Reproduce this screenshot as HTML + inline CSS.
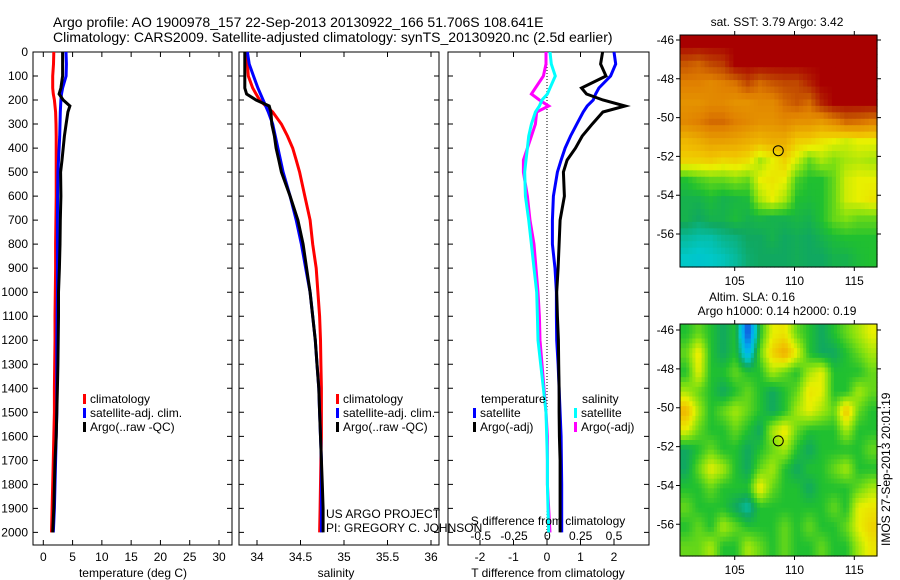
<!DOCTYPE html>
<html><head><meta charset="utf-8"><style>
html,body{margin:0;padding:0;background:#fff;}
svg{display:block;font-family:"Liberation Sans",sans-serif;}
text{font-size:12px;fill:#000;}
</style></head><body>
<svg id="fig" width="900" height="580" viewBox="0 0 900 580" xmlns="http://www.w3.org/2000/svg">
<text x="53" y="27" style="font-size:14px">Argo profile: AO 1900978_157 22-Sep-2013 20130922_166 51.706S 108.641E</text>
<text x="53" y="42" style="font-size:14px">Climatology: CARS2009. Satellite-adjusted climatology: synTS_20130920.nc (2.5d earlier)</text>
<text x="777" y="26" text-anchor="middle">sat. SST: 3.79 Argo: 3.42</text>
<text x="752" y="301" text-anchor="middle">Altim. SLA: 0.16</text>
<text x="777" y="315" text-anchor="middle">Argo h1000: 0.14 h2000: 0.19</text>
<text transform="translate(890,546) rotate(-90)">IMOS 27-Sep-2013 20:01:19</text>
<text x="326" y="518">US ARGO PROJECT</text>
<text x="326" y="532">PI: GREGORY C. JOHNSON</text>
</svg>
<script>
// ---- data ----
const depths = [0,50,100,150,175,200,225,250,300,350,400,450,500,600,700,800,900,1000,1100,1200,1300,1400,1500,1600,1700,1800,1900,2000];
const tempClim = [1.8,1.75,1.6,1.6,1.7,1.9,2.0,2.1,2.17,2.2,2.2,2.2,2.2,2.2,2.15,2.1,2.1,2.05,2.0,2.0,1.95,1.9,1.9,1.8,1.7,1.6,1.5,1.4];
const tempSat = [3.87,3.95,3.9,3.3,3.1,3.0,2.95,2.9,2.85,2.8,2.7,2.6,2.5,2.45,2.4,2.4,2.4,2.4,2.35,2.3,2.3,2.3,2.3,2.2,2.1,2.0,1.9,1.7];
const tempArgo = [3.3,3.3,3.3,3.0,2.7,3.4,4.55,4.2,3.9,3.6,3.4,3.2,2.95,3.0,2.9,2.85,2.75,2.6,2.6,2.55,2.5,2.4,2.3,2.2,2.0,1.9,1.8,1.6];
const salClim = [33.89,33.89,33.90,33.95,33.99,34.03,34.1,34.18,34.28,34.35,34.41,34.45,34.49,34.55,34.61,34.64,34.68,34.70,34.72,34.73,34.735,34.74,34.74,34.74,34.735,34.73,34.725,34.72];
const salSat = [33.89,33.91,33.96,34.01,34.04,34.07,34.10,34.13,34.18,34.21,34.24,34.27,34.30,34.38,34.45,34.51,34.56,34.61,34.64,34.67,34.69,34.71,34.72,34.73,34.74,34.74,34.74,34.74];
const salArgo = [33.86,33.86,33.86,33.86,33.88,33.99,34.14,34.16,34.17,34.20,34.22,34.25,34.28,34.38,34.47,34.53,34.57,34.61,34.64,34.67,34.69,34.71,34.72,34.73,34.74,34.75,34.76,34.76];
const dTsat = [2.0,2.05,1.9,1.55,1.45,1.38,1.2,1.08,0.89,0.7,0.54,0.42,0.31,0.19,0.16,0.16,0.24,0.28,0.28,0.29,0.33,0.36,0.39,0.42,0.43,0.44,0.44,0.44];
const dTargo = [1.66,1.6,1.76,1.03,1.18,1.67,2.33,1.67,1.35,1.05,0.85,0.6,0.49,0.52,0.39,0.36,0.33,0.29,0.31,0.34,0.35,0.36,0.36,0.37,0.39,0.39,0.39,0.39];
const dSsat = [0.02,0.03,0.06,0.02,0.0,-0.04,-0.06,-0.09,-0.12,-0.14,-0.15,-0.16,-0.17,-0.165,-0.14,-0.12,-0.1,-0.08,-0.075,-0.07,-0.05,-0.03,-0.01,-0.005,0.0,0.0,0.005,0.01];
const dSargo = [-0.01,-0.01,-0.03,-0.09,-0.12,-0.06,0.01,-0.08,-0.09,-0.12,-0.15,-0.18,-0.18,-0.15,-0.13,-0.1,-0.085,-0.07,-0.06,-0.055,-0.04,-0.025,-0.01,0.0,0.0,0.0,0.01,0.02];
const depthTicks = [0,100,200,300,400,500,600,700,800,900,1000,1100,1200,1300,1400,1500,1600,1700,1800,1900,2000];
const tempTicks = [0,5,10,15,20,25,30];
const salTicks = [34,34.5,35,35.5,36];
const salTickLabels = ["34","34.5","35","35.5","36"];
const dTTicks = [-2,-1,0,1,2];
const dSTicks = [-0.5,-0.25,0,0.25,0.5];
const dSTickLabels = ["-0.5","-0.25","0","0.25","0.5"];
const latTicks = [-46,-48,-50,-52,-54,-56];
const lonTicks = [105,110,115];
const argoLon = 108.641, argoLat = -51.706;
const sstGrid = [
[1,1,1,1,1,1,1,1,1,1,1,1,1,1,1,1],
[0.88,0.86,0.9,0.92,1,1,1,1,1,1,1,1,1,1,1,1],
[0.82,0.82,0.8,0.82,0.84,0.9,0.85,0.88,0.9,0.9,0.95,1,1,1,1,1],
[0.78,0.78,0.8,0.8,0.78,0.78,0.8,0.8,0.85,0.88,0.85,0.95,1,1,1,1],
[0.8,0.82,0.85,0.85,0.82,0.8,0.78,0.78,0.8,0.78,0.78,0.76,0.8,0.85,0.84,0.82],
[0.7,0.72,0.75,0.75,0.74,0.72,0.7,0.72,0.72,0.66,0.65,0.62,0.6,0.58,0.6,0.6],
[0.65,0.65,0.66,0.64,0.65,0.63,0.55,0.6,0.65,0.58,0.5,0.55,0.52,0.55,0.56,0.55],
[0.45,0.48,0.5,0.5,0.52,0.5,0.6,0.62,0.6,0.48,0.45,0.45,0.5,0.58,0.6,0.6],
[0.42,0.42,0.44,0.42,0.43,0.44,0.55,0.6,0.55,0.45,0.44,0.45,0.5,0.58,0.6,0.62],
[0.42,0.4,0.42,0.42,0.44,0.42,0.43,0.42,0.42,0.43,0.42,0.45,0.5,0.52,0.5,0.5],
[0.36,0.35,0.35,0.37,0.38,0.4,0.4,0.42,0.4,0.41,0.4,0.42,0.44,0.45,0.45,0.45],
[0.33,0.32,0.33,0.34,0.36,0.39,0.4,0.4,0.4,0.41,0.4,0.4,0.42,0.42,0.44,0.45]];
const slaGrid = [
[0.45,0.5,0.45,0.4,0.45,0.12,0.45,0.6,0.62,0.5,0.45,0.4,0.45,0.5,0.55,0.6],
[0.5,0.62,0.45,0.4,0.45,0.25,0.5,0.65,0.72,0.6,0.45,0.4,0.4,0.45,0.5,0.55],
[0.45,0.6,0.45,0.45,0.5,0.45,0.45,0.55,0.5,0.45,0.55,0.6,0.45,0.45,0.45,0.5],
[0.55,0.5,0.45,0.4,0.45,0.5,0.45,0.4,0.45,0.5,0.62,0.6,0.45,0.45,0.55,0.5],
[0.7,0.55,0.45,0.5,0.55,0.5,0.45,0.4,0.45,0.55,0.6,0.55,0.5,0.68,0.5,0.45],
[0.6,0.5,0.45,0.45,0.5,0.45,0.4,0.55,0.62,0.5,0.45,0.45,0.45,0.55,0.45,0.45],
[0.4,0.45,0.5,0.45,0.45,0.4,0.45,0.5,0.55,0.45,0.4,0.45,0.45,0.45,0.45,0.5],
[0.4,0.5,0.6,0.55,0.45,0.4,0.5,0.55,0.45,0.4,0.45,0.45,0.5,0.55,0.45,0.45],
[0.45,0.45,0.5,0.45,0.45,0.45,0.62,0.5,0.45,0.45,0.4,0.45,0.45,0.45,0.5,0.55],
[0.5,0.45,0.45,0.45,0.4,0.35,0.45,0.45,0.45,0.45,0.45,0.45,0.5,0.45,0.6,0.62],
[0.45,0.5,0.45,0.55,0.5,0.45,0.45,0.45,0.5,0.45,0.5,0.45,0.45,0.5,0.6,0.65],
[0.5,0.5,0.55,0.45,0.45,0.55,0.5,0.45,0.5,0.45,0.45,0.5,0.45,0.45,0.55,0.62]];

// ---- helpers ----
const NS = "http://www.w3.org/2000/svg";
const svg = document.getElementById('fig');
function mk(tag, attrs, parent){
  const e = document.createElementNS(NS, tag);
  for (const k in attrs) e.setAttribute(k, attrs[k]);
  (parent||svg).appendChild(e);
  return e;
}
function lin(d0,d1,r0,r1){ return v => r0 + (v-d0)*(r1-r0)/(d1-d0); }
const PT = 52, PB = 545;
const yDepth = lin(0,2000,52,532.4);

function drawPanel(name, x0, x1){
  const r = mk('rect',{x:x0,y:PT,width:x1-x0,height:PB-PT,fill:'none',stroke:'#000','stroke-width':1});
  
  
  depthTicks.forEach(d=>{
    const y = yDepth(d);
    const t = mk('path',{d:`M${x0} ${y}h5M${x1} ${y}h-5`,stroke:'#000','stroke-width':1});
    
    
  });
}
function xTicks(name, scale, ticks, labels, y, top){
  ticks.forEach((v,i)=>{
    const x = scale(v);
    if (top !== false){
      const t = mk('path',{d:`M${x} ${PB}v-5M${x} ${PT}v5`,stroke:'#000','stroke-width':1});
      
      
    }
    const l = mk('text',{x:x,y:y,'text-anchor':'middle'});
    l.textContent = labels[i];
    
    
  });
}
function series(name, xs, scale, color){
  const pts = xs.map((v,i)=>scale(v).toFixed(1)+','+yDepth(depths[i]).toFixed(1)).join(' ');
  const p = mk('polyline',{points:pts,fill:'none',stroke:color,'stroke-width':3,'stroke-linejoin':'miter'});
  
  
}
function legend(name, x, y, color, label){
  const m = mk('rect',{x:x,y:y-9,width:3,height:10,fill:color});
  
  
  const t = mk('text',{x:x+7,y:y});
  t.textContent = label;
  
  
}

// ---- panel 1: temperature ----
const xT = lin(0,30,43.3,219);
drawPanel('temperature-panel', 33, 232);
depthTicks.forEach(d=>{
  const l = mk('text',{x:28,y:yDepth(d)+4,'text-anchor':'end'});
  l.textContent = d;
  
  
});
xTicks('temperature', xT, tempTicks, tempTicks.map(String), 561);
series('temp-climatology-line', tempClim, xT, '#ff0000');
series('temp-satellite-line', tempSat, xT, '#0000ff');
series('temp-argo-line', tempArgo, xT, '#000000');
let tl = mk('text',{x:133,y:577,'text-anchor':'middle'}); tl.textContent='temperature (deg C)';


legend('legend-climatology',83,403,'#ff0000','climatology');
legend('legend-satellite-adj',83,417,'#0000ff','satellite-adj. clim.');
legend('legend-argo',83,431,'#000000','Argo(..raw -QC)');

// ---- panel 2: salinity ----
const xS = lin(34,36,257,431);
drawPanel('salinity-panel', 239, 439);
xTicks('salinity', xS, salTicks, salTickLabels, 561);
series('sal-climatology-line', salClim, xS, '#ff0000');
series('sal-satellite-line', salSat, xS, '#0000ff');
series('sal-argo-line', salArgo, xS, '#000000');
tl = mk('text',{x:336,y:577,'text-anchor':'middle'}); tl.textContent='salinity';


legend('legend-sal-climatology',336,403,'#ff0000','climatology');
legend('legend-sal-satellite-adj',336,417,'#0000ff','satellite-adj. clim.');
legend('legend-sal-argo',336,431,'#000000','Argo(..raw -QC)');

// ---- panel 3: differences ----
const xDT = lin(-2,2,480,614);
const xDS = lin(-0.5,0.5,480.7,614);
drawPanel('difference-panel', 448, 649);
xTicks('t-difference', xDT, dTTicks, dTTicks.map(String), 561);
xTicks('s-difference', xDS, dSTicks, dSTickLabels, 540, false);
const zl = mk('line',{x1:xDT(0),x2:xDT(0),y1:PT,y2:PB,stroke:'#000','stroke-width':1,'stroke-dasharray':'1,2'});


series('dS-argo-line', dSargo, xDS, '#ff00ff');
series('dS-satellite-line', dSsat, xDS, '#00ffff');
series('dT-satellite-line', dTsat, xDT, '#0000ff');
series('dT-argo-line', dTargo, xDT, '#000000');
tl = mk('text',{x:548,y:525,'text-anchor':'middle'}); tl.textContent='S difference from climatology';


tl = mk('text',{x:548,y:577,'text-anchor':'middle'}); tl.textContent='T difference from climatology';


tl = mk('text',{x:481,y:403}); tl.textContent='temperature';


tl = mk('text',{x:582,y:403}); tl.textContent='salinity';


legend('legend-dT-satellite',473,417,'#0000ff','satellite');
legend('legend-dT-argo',473,431,'#000000','Argo(-adj)');
legend('legend-dS-satellite',574,417,'#00ffff','satellite');
legend('legend-dS-argo',574,431,'#ff00ff','Argo(-adj)');

// ---- maps ----
const stops = [[0.15,[16,96,224]],[0.25,[0,176,240]],[0.33,[0,200,200]],[0.4,[16,168,96]],[0.45,[32,192,48]],[0.52,[128,224,16]],[0.6,[232,240,0]],[0.68,[240,192,0]],[0.75,[232,160,0]],[0.82,[224,128,0]],[0.9,[192,72,0]],[1,[168,0,0]]];
function cmap(v){
  if (v<=stops[0][0]) return 'rgb('+stops[0][1]+')';
  for (let i=1;i<stops.length;i++){
    if (v<=stops[i][0]){
      const a=stops[i-1],b=stops[i],f=(v-a[0])/(b[0]-a[0]);
      return 'rgb('+a[1].map((c,k)=>Math.round(c+(b[1][k]-c)*f)).join(',')+')';
    }
  }
  return 'rgb('+stops[stops.length-1][1]+')';
}
function sample(grid, fr, fc){
  const nr=grid.length, nc=grid[0].length;
  fr=Math.max(0,Math.min(nr-1,fr)); fc=Math.max(0,Math.min(nc-1,fc));
  const r0=Math.floor(fr), c0=Math.floor(fc), r1=Math.min(nr-1,r0+1), c1=Math.min(nc-1,c0+1);
  const a=fr-r0, b=fc-c0;
  return grid[r0][c0]*(1-a)*(1-b)+grid[r0][c1]*(1-a)*b+grid[r1][c0]*a*(1-b)+grid[r1][c1]*a*b;
}
function drawMap(name, grid, top, bottom, lat46y, lat56y, sub){
  const L=680,R=877, lonMin=100.43, lonMax=116.9;
  const xLon = lin(105,115,734.7,854.3);
  const yLat = lin(-46,-56,lat46y,lat56y);
  const latTop = -46 + (top-lat46y)*(-10)/(lat56y-lat46y);
  const latBot = -46 + (bottom-lat46y)*(-10)/(lat56y-lat46y);
  const nr=grid.length*sub, nc=grid[0].length*sub;
  const g = mk('g',{});
  
  
  for (let r=0;r<nr;r++) for (let c=0;c<nc;c++){
    const lo0 = lonMin + (lonMax-lonMin)*c/nc, lo1 = lonMin + (lonMax-lonMin)*(c+1)/nc;
    const la0 = latTop + (latBot-latTop)*r/nr, la1 = latTop + (latBot-latTop)*(r+1)/nr;
    const v = sample(grid, (r+0.5)/sub-0.5, (c+0.5)/sub-0.5);
    const x=xLon(lo0), y=yLat(la0);
    const cell = mk('rect',{x:x.toFixed(2),y:y.toFixed(2),width:(xLon(lo1)-x+0.6).toFixed(2),height:(yLat(la1)-y+0.6).toFixed(2),fill:cmap(v)},g);
    
    
  }
  const f = mk('rect',{x:L,y:top,width:R-L,height:bottom-top,fill:'none',stroke:'#000','stroke-width':1});
  
  
  latTicks.forEach(v=>{
    const y=yLat(v);
    const t=mk('path',{d:`M${L} ${y}h-4M${R} ${y}h4`,stroke:'#000','stroke-width':1});
    
    
    const l=mk('text',{x:L-6,y:y+4,'text-anchor':'end'}); l.textContent=v;
    
    
  });
  lonTicks.forEach(v=>{
    const x=xLon(v);
    const t=mk('path',{d:`M${x} ${top}v-4M${x} ${bottom}v4`,stroke:'#000','stroke-width':1});
    
    
    const l=mk('text',{x:x,y:bottom+18,'text-anchor':'middle'}); l.textContent=v;
    
    
  });
  const c=mk('circle',{cx:xLon(argoLon),cy:yLat(argoLat),r:5,fill:'none',stroke:'#000','stroke-width':1});
  
  
}
drawMap('sst-map', sstGrid, 35, 267, 40, 234, 3);
drawMap('sla-map', slaGrid, 324, 556, 330, 524.3, 4);
</script>
</body></html>
